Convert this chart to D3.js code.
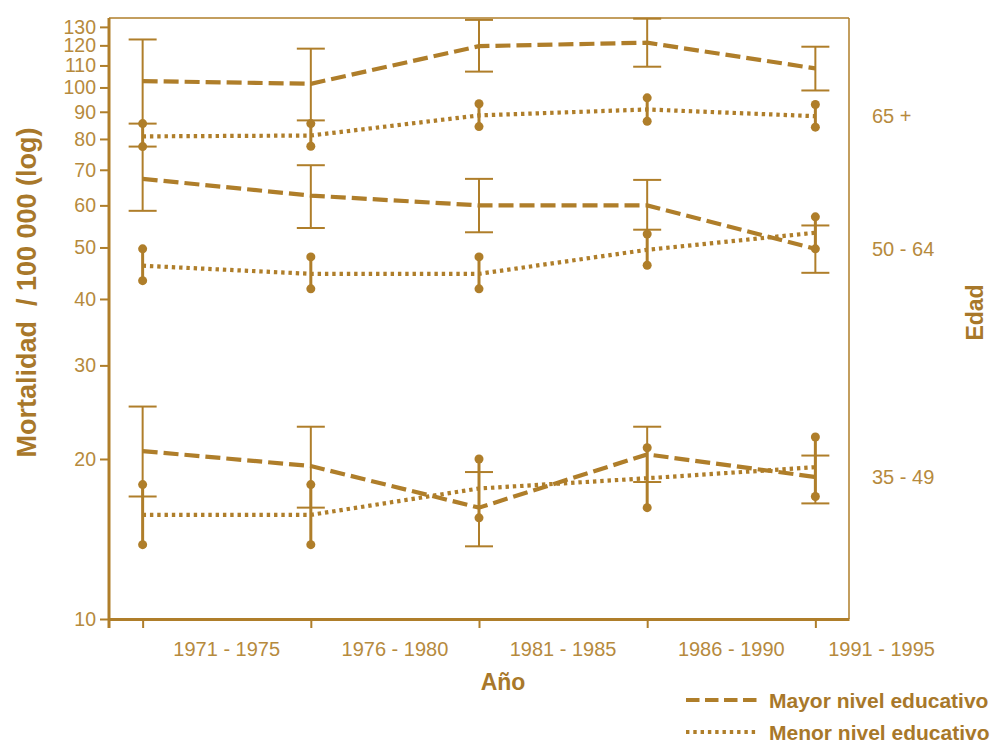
<!DOCTYPE html>
<html>
<head>
<meta charset="utf-8">
<script src="https://cdn.jsdelivr.net/npm/d3@7"></script>
<style>
  html, body { margin: 0; padding: 0; background: #ffffff; }
  svg { display: block; }
  text { font-family: "Liberation Sans", Arial, sans-serif; }
</style>
</head>
<body>
<svg id="chart" width="990" height="744"></svg>
<script>
// Periods (x categories) and age groups
const periods = ["1971 - 1975", "1976 - 1980", "1981 - 1985", "1986 - 1990", "1991 - 1995"];
const ageGroups = ["65 +", "50 - 64", "35 - 49"];
const yTickValues = [10, 20, 30, 40, 50, 60, 70, 80, 90, 100, 110, 120, 130];

// Higher education level: rate and confidence interval, per age group
const mayor65   = [102.8, 101.6, 119.6, 121.4, 108.6];
const mayor65Lo = [85.5, 86.7, 107.1, 109.4, 98.7];
const mayor65Hi = [123.1, 118.3, 134.0, 134.7, 119.3];
const mayor50   = [67.3, 62.6, 60.0, 60.0, 49.7];
const mayor50Lo = [58.6, 54.4, 53.4, 54.0, 44.8];
const mayor50Hi = [77.4, 71.4, 67.3, 67.0, 55.0];
const mayor35   = [20.7, 19.4, 16.2, 20.4, 18.5];
const mayor35Lo = [17.0, 16.2, 13.7, 18.1, 16.5];
const mayor35Hi = [25.1, 23.0, 18.9, 23.0, 20.3];

// Lower education level: rate and confidence interval, per age group
const menor65   = [80.9, 81.2, 88.6, 90.9, 88.3];
const menor65Lo = [77.4, 77.5, 84.4, 86.4, 84.2];
const menor65Hi = [85.5, 85.5, 93.2, 95.6, 92.9];
const menor50   = [46.2, 44.6, 44.6, 49.5, 53.3];
const menor50Lo = [43.3, 41.8, 41.8, 46.3, 49.7];
const menor50Hi = [49.7, 48.0, 48.0, 53.0, 57.1];
const menor35   = [15.7, 15.7, 17.6, 18.4, 19.3];
const menor35Lo = [13.8, 13.8, 15.5, 16.2, 17.0];
const menor35Hi = [17.9, 17.9, 20.0, 21.0, 22.0];

const legendLabels = ["Mayor nivel educativo", "Menor nivel educativo"];

const mayorSeries = [
  { v: mayor65, lo: mayor65Lo, hi: mayor65Hi },
  { v: mayor50, lo: mayor50Lo, hi: mayor50Hi },
  { v: mayor35, lo: mayor35Lo, hi: mayor35Hi }
];
const menorSeries = [
  { v: menor65, lo: menor65Lo, hi: menor65Hi },
  { v: menor50, lo: menor50Lo, hi: menor50Hi },
  { v: menor35, lo: menor35Lo, hi: menor35Hi }
];

const INK = "#AF7E2A";
const TEXT = "#B68A3D";
const TITLE = "#A8782A";
const DASH = "15,6";
const DOT = "3.4,3.9";

const svg = d3.select("#chart");
const plotLeft = 109, plotRight = 849, plotTop = 18, plotBottom = 619;

const x = d3.scalePoint().domain(periods).range([plotLeft, plotRight]).padding(0.2);
const y = d3.scaleLog().domain([10, 135.1]).range([plotBottom, plotTop]);

// Plot frame: thin top and right edges
svg.append("line").attr("x1", plotLeft).attr("x2", plotRight).attr("y1", plotTop).attr("y2", plotTop)
  .attr("stroke", INK).attr("stroke-width", 1.5);
svg.append("line").attr("x1", plotRight).attr("x2", plotRight).attr("y1", plotTop).attr("y2", plotBottom)
  .attr("stroke", INK).attr("stroke-width", 1.5);

// Y axis (log)
const gy = svg.append("g").attr("transform", `translate(${plotLeft},0)`)
  .call(d3.axisLeft(y).tickValues(yTickValues).tickFormat(d3.format("d")).tickSize(9).tickSizeOuter(0));
gy.select(".domain").remove();
gy.selectAll(".tick line").attr("stroke", INK).attr("stroke-width", 2);
gy.selectAll(".tick text").attr("fill", TEXT).attr("font-size", 19.5)
  .attr("font-family", "Liberation Sans, Arial, sans-serif").attr("x", -13);
svg.append("line").attr("x1", plotLeft).attr("x2", plotLeft).attr("y1", plotTop).attr("y2", plotBottom + 9)
  .attr("stroke", INK).attr("stroke-width", 3);

// X axis
const gx = svg.append("g").attr("transform", `translate(0,${plotBottom})`)
  .call(d3.axisBottom(x).tickSize(9).tickSizeOuter(0).tickFormat(""));
gx.select(".domain").attr("stroke", INK).attr("stroke-width", 3);
gx.selectAll(".tick line").attr("stroke", INK).attr("stroke-width", 2);

// Period labels sit between ticks; the last one is kept inside the page
const step = x.step();
const periodLabels = svg.append("g").selectAll("text").data(periods).join("text")
  .attr("x", d => x(d) + step / 2)
  .attr("y", plotBottom + 37)
  .attr("text-anchor", "middle")
  .attr("fill", TEXT).attr("font-size", 20)
  .text(d => d);
periodLabels.each(function () {
  const w = this.getComputedTextLength();
  const cx = +this.getAttribute("x");
  const maxRight = 935;
  if (cx + w / 2 > maxRight) this.setAttribute("x", maxRight - w / 2);
});

// Axis titles
svg.append("text").attr("x", (plotLeft + plotRight) / 2 + 24).attr("y", plotBottom + 71)
  .attr("text-anchor", "middle").attr("font-weight", "bold").attr("font-size", 23)
  .attr("fill", TITLE).text("Año");
svg.append("text")
  .attr("transform", `translate(36,${(plotTop + plotBottom) / 2 - 26}) rotate(-90)`)
  .attr("text-anchor", "middle").attr("font-weight", "bold").attr("font-size", 27)
  .attr("fill", TITLE).style("white-space", "pre").text("Mortalidad  / 100 000 (log)");
svg.append("text")
  .attr("transform", `translate(983,${(plotTop + plotBottom) / 2 - 6}) rotate(-90)`)
  .attr("text-anchor", "middle").attr("font-weight", "bold").attr("font-size", 23)
  .attr("fill", TITLE).text("Edad");

// Age group labels, aligned with the lower of each group's final values
const last = periods.length - 1;
svg.append("g").selectAll("text").data(ageGroups).join("text")
  .attr("x", 872)
  .attr("y", (d, i) => y(Math.min(mayorSeries[i].v[last], menorSeries[i].v[last])))
  .attr("dy", "0.36em")
  .attr("fill", TEXT).attr("font-size", 20)
  .text(d => d);

const line = d3.line().x((d, i) => x(periods[i])).y(d => y(d));

// Higher education: dashed lines with capped error bars
mayorSeries.forEach(s => {
  const g = svg.append("g");
  periods.forEach((p, i) => {
    const cx = x(p);
    g.append("line").attr("x1", cx).attr("x2", cx).attr("y1", y(s.hi[i])).attr("y2", y(s.lo[i]))
      .attr("stroke", INK).attr("stroke-width", 2);
    [s.hi[i], s.lo[i]].forEach(v => {
      g.append("line").attr("x1", cx - 14).attr("x2", cx + 14).attr("y1", y(v)).attr("y2", y(v))
        .attr("stroke", INK).attr("stroke-width", 2);
    });
  });
  g.append("path").datum(s.v).attr("d", line).attr("fill", "none")
    .attr("stroke", INK).attr("stroke-width", 4.2).attr("stroke-dasharray", DASH);
});

// Lower education: dotted lines with dot-ended error bars
menorSeries.forEach(s => {
  const g = svg.append("g");
  periods.forEach((p, i) => {
    const cx = x(p);
    g.append("line").attr("x1", cx).attr("x2", cx).attr("y1", y(s.hi[i])).attr("y2", y(s.lo[i]))
      .attr("stroke", INK).attr("stroke-width", 3);
    [s.hi[i], s.lo[i]].forEach(v => {
      g.append("circle").attr("cx", cx).attr("cy", y(v)).attr("r", 4.5).attr("fill", INK);
    });
  });
  g.append("path").datum(s.v).attr("d", line).attr("fill", "none")
    .attr("stroke", INK).attr("stroke-width", 4.2).attr("stroke-dasharray", DOT);
});

// Legend
const legend = svg.append("g");
legendLabels.forEach((label, i) => {
  const ly = 700 + i * 32;
  legend.append("line").attr("x1", 686).attr("x2", 757).attr("y1", ly).attr("y2", ly)
    .attr("stroke", INK).attr("stroke-width", 4)
    .attr("stroke-dasharray", i === 0 ? "13.5,5.5" : DOT);
  legend.append("text").attr("x", 769).attr("y", ly).attr("dy", "0.36em")
    .attr("font-weight", "bold").attr("font-size", 21).attr("fill", TITLE).text(label);
});
</script>
</body>
</html>
